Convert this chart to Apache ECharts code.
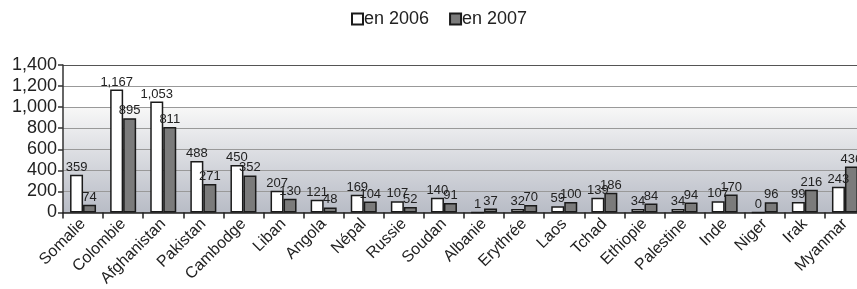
<!DOCTYPE html>
<html>
<head>
<meta charset="utf-8">
<script src="https://cdn.jsdelivr.net/npm/echarts@6/dist/echarts.min.js"></script>
<style>
  html,body{margin:0;padding:0;background:#fff;overflow:hidden;}
  #main{width:865px;height:289px;}
</style>
</head>
<body>
<div id="main"></div>
<script>
// pays
var pays = ['Somalie','Colombie','Afghanistan','Pakistan','Cambodge','Liban','Angola','Népal','Russie','Soudan',
            'Albanie','Erythrée','Laos','Tchad','Ethiopie','Palestine','Inde','Niger','Irak','Myanmar'];
// valeurs
var en2006 = [359,1167,1053,488,450,207,121,169,107,140,1,32,59,139,34,34,107,0,99,243];
var en2007 = [74,895,811,271,352,130,48,104,52,91,37,70,100,186,84,94,170,96,216,436];
var yTicks = [0,200,400,600,800,1000,1200,1400];

var police = '"Liberation Sans", Arial, sans-serif';

var app = echarts.init(document.getElementById('main'));

function fmt(v){
    return v.toString().replace(/\B(?=(\d{3})+(?!\d))/g, ',');
}

var option = {
    animation: false,
    textStyle: { fontFamily: police },
    legend: {
        top: 5,
        left: 346,
        icon: 'rect',
        itemWidth: 11,
        itemHeight: 11,
        itemGap: 20,
        textStyle: { fontSize: 18, color: '#222', fontFamily: police, padding: [0,0,0,-4] },
        data: ['en 2006','en 2007']
    },
    grid: {
        left: 63,
        right: 0,
        top: 65,
        bottom: 76,
        show: true,
        borderWidth: 0,
        backgroundColor: new echarts.graphic.LinearGradient(0, 0, 0, 1, [
            { offset: 0, color: '#ffffff' },
            { offset: 0.285, color: '#ffffff' },
            { offset: 0.29, color: '#f7f7f7' },
            { offset: 1, color: '#b8bcc6' }
        ])
    },
    xAxis: {
        type: 'category',
        data: pays,
        axisLine: { lineStyle: { color: '#222', width: 1.5 } },
        axisTick: { show: true, length: 6, lineStyle: { color: '#222', width: 1.5 } },
        axisLabel: {
            rotate: 45,
            interval: 0,
            fontSize: 16,
            color: '#222',
            margin: 9,
            fontFamily: police
        }
    },
    yAxis: {
        type: 'value',
        min: yTicks[0],
        max: yTicks[yTicks.length - 1],
        interval: 200,
        axisLine: { show: true, lineStyle: { color: '#333', width: 1.5 } },
        axisTick: { show: true, length: 5, lineStyle: { color: '#333', width: 1.5 } },
        axisLabel: {
            fontSize: 18,
            color: '#222',
            margin: 6,
            fontFamily: police,
            formatter: function(v){ return fmt(v); }
        },
        splitLine: {
            show: true,
            lineStyle: {
                color: ['#999','#999','#999','#999','#999','#999','#999','#555'],
                width: 1
            }
        }
    },
    series: [{
        name: 'en 2006',
        type: 'bar',
        data: en2006,
        barWidth: 13,
        barGap: '0%',
        itemStyle: { color: '#ffffff', borderColor: '#1a1a1a', borderWidth: 1.5 },
        label: {
            show: true, position: 'top', distance: 1,
            fontSize: 13, color: '#222', fontFamily: police,
            formatter: function(p){ return fmt(p.value); }
        }
    },{
        name: 'en 2007',
        type: 'bar',
        data: en2007,
        barWidth: 13,
        itemStyle: { color: '#7b7b7b', borderColor: '#1a1a1a', borderWidth: 1.5 },
        label: {
            show: true, position: 'top', distance: 1,
            fontSize: 13, color: '#222', fontFamily: police,
            formatter: function(p){ return fmt(p.value); }
        }
    }]
};
app.setOption(option);
</script>
</body>
</html>
